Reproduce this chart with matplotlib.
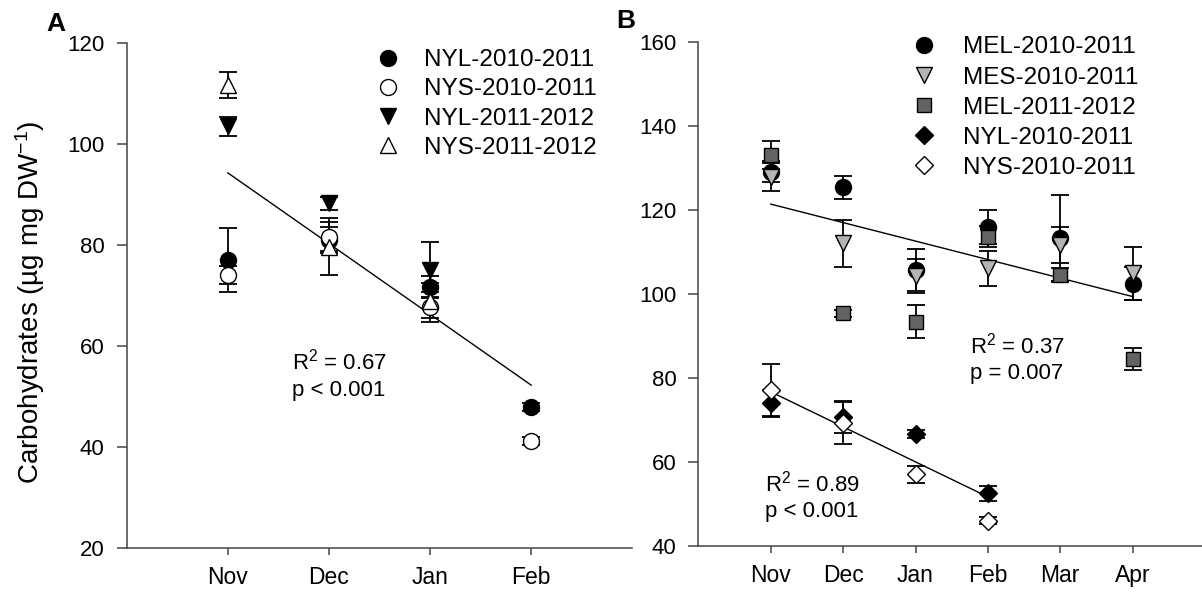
import matplotlib
matplotlib.use('Agg')
import matplotlib.pyplot as plt

plt.rcParams['font.family'] = ['Liberation Sans', 'DejaVu Sans']
plt.rcParams['mathtext.fontset'] = 'custom'
plt.rcParams['mathtext.rm'] = 'Liberation Sans'
plt.rcParams['mathtext.it'] = 'Liberation Sans:italic'
plt.rcParams['mathtext.bf'] = 'Liberation Sans:bold'

# x-axis categories
months_a = ['Nov', 'Dec', 'Jan', 'Feb']
months_b = ['Nov', 'Dec', 'Jan', 'Feb', 'Mar', 'Apr']

# panel A values (mean and error)
nyl_1011 = [77.1, 81.0, 71.8, 47.9]
nyl_1011_err = [6.3, 2.6, 2.0, 0.8]
nys_1011 = [74.1, 81.7, 67.8, 41.3]
nys_1011_err = [1.8, 2.8, 3.0, 0.8]
nyl_1112 = [103.5, 88.3, 75.1]
nyl_1112_err = [1.9, 1.3, 5.5]
nys_1112 = [111.7, 79.7, 69.0]
nys_1112_err = [2.5, 5.6, 3.5]
fit_a = [94.3, 52.3]          # regression line, Nov -> Feb

# panel B values
mel_1011 = [129.1, 125.4, 105.7, 116.0, 113.3, 102.5]
mel_1011_err = [2.5, 2.8, 5.0, 4.0, 10.3, 4.0]
mes_1011 = [127.9, 112.1, 104.3, 106.1, 111.7, 104.9]
mes_1011_err = [3.3, 5.6, 4.0, 4.2, 4.2, 6.4]
mel_1112 = [133.1, 95.4, 93.4, 113.6, 104.5, 84.5]
mel_1112_err = [3.4, 0.8, 3.9, 2.5, 1.6, 2.6]
nyl_b = [74.0, 70.8, 66.6, 52.5]
nyl_b_err = [3.2, 3.8, 1.0, 1.7]
nys_b = [77.1, 69.2, 57.1, 46.0]
nys_b_err = [6.2, 5.0, 2.0, 0.8]
fit_b_me = [121.4, 99.4]      # Nov -> Apr
fit_b_ny = [76.7, 51.7]       # Nov -> Feb

axis_col = '#444444'


def series(ax, y, err, marker, fc, ms, label):
    x = list(range(1, len(y) + 1))
    ax.errorbar(x, y, yerr=err, fmt='none', ecolor='black', elinewidth=1.3,
                capsize=6.5, capthick=1.3, zorder=2)
    ax.plot(x, y, linestyle='none', marker=marker, markersize=ms,
            markerfacecolor=fc, markeredgecolor='black', markeredgewidth=1.0,
            label=label, zorder=3)


def style(ax, labels, xmax, ylim, yticks):
    ax.set_xlim(0, xmax)
    ax.set_ylim(*ylim)
    ax.set_yticks(yticks)
    ax.set_xticks(range(1, len(labels) + 1))
    ax.set_xticklabels(labels)
    for s in ['top', 'right']:
        ax.spines[s].set_visible(False)
    for s in ['left', 'bottom']:
        ax.spines[s].set_color(axis_col)
        ax.spines[s].set_linewidth(1.1)
    ax.tick_params(axis='y', length=7, width=1.1, color=axis_col, pad=9, labelsize=16)
    ax.tick_params(axis='x', length=5, width=1.1, color=axis_col, pad=8, labelsize=16.5)


fig = plt.figure(figsize=(12.02, 5.96), dpi=100)
ax1 = fig.add_axes([0.1054, 0.080, 0.4206, 0.8479])
ax2 = fig.add_axes([0.5811, 0.0839, 0.4189, 0.8456])

# panel A
series(ax1, nyl_1011, nyl_1011_err, 'o', 'black', 11.5, 'NYL-2010-2011')
series(ax1, nys_1011, nys_1011_err, 'o', 'white', 11.5, 'NYS-2010-2011')
series(ax1, nyl_1112, nyl_1112_err, 'v', 'black', 11, 'NYL-2011-2012')
series(ax1, nys_1112, nys_1112_err, '^', 'white', 11, 'NYS-2011-2012')
ax1.plot([1, 4], fit_a, color='black', lw=1.0, zorder=1)
style(ax1, months_a, 5, (20, 120), range(20, 121, 20))
ax1.legend(loc='upper left', bbox_to_anchor=(0.4921, 0.988), frameon=False,
           fontsize=17.5, handlelength=1.0, handletextpad=0.98, labelspacing=0.30,
           borderpad=0, borderaxespad=0, numpoints=1)
ax1.text(1.63, 55.4, r'R$^2$ = 0.67', fontsize=16, va='baseline')
ax1.text(1.63, 50.2, 'p < 0.001', fontsize=16, va='baseline')

# panel B
series(ax2, mel_1011, mel_1011_err, 'o', 'black', 11.5, 'MEL-2010-2011')
series(ax2, mes_1011, mes_1011_err, 'v', '#b4b4b4', 11, 'MES-2010-2011')
series(ax2, mel_1112, mel_1112_err, 's', '#636363', 9.4, 'MEL-2011-2012')
series(ax2, nyl_b, nyl_b_err, 'D', 'black', 9, 'NYL-2010-2011')
series(ax2, nys_b, nys_b_err, 'D', 'white', 9, 'NYS-2010-2011')
ax2.plot([1, 6], fit_b_me, color='black', lw=1.0, zorder=1)
ax2.plot([1, 4], fit_b_ny, color='black', lw=1.0, zorder=1)
style(ax2, months_b, 6.96, (40, 160), range(40, 161, 20))
ax2.legend(loc='upper left', bbox_to_anchor=(0.4244, 1.011), frameon=False,
           fontsize=17.5, handlelength=1.0, handletextpad=1.09, labelspacing=0.33,
           borderpad=0, borderaxespad=0, numpoints=1)
ax2.text(3.755, 85.9, r'R$^2$ = 0.37', fontsize=16, va='baseline')
ax2.text(3.755, 79.8, 'p = 0.007', fontsize=16, va='baseline')
ax2.text(0.92, 52.9, r'R$^2$ = 0.89', fontsize=16, va='baseline')
ax2.text(0.92, 46.8, 'p < 0.001', fontsize=16, va='baseline')

fig.text(30 / 1202, 1 - 302 / 596, r'Carbohydrates (µg mg DW$^{-1}$)', fontsize=20,
         rotation=90, ha='center', va='center')
fig.text(46.7 / 1202, 1 - 30.7 / 596, 'A', fontsize=19, fontweight='bold', va='baseline')
fig.text(616 / 1202, 1 - 28.3 / 596, 'B', fontsize=19, fontweight='bold', va='baseline')

fig.savefig('out.png', dpi=100)
